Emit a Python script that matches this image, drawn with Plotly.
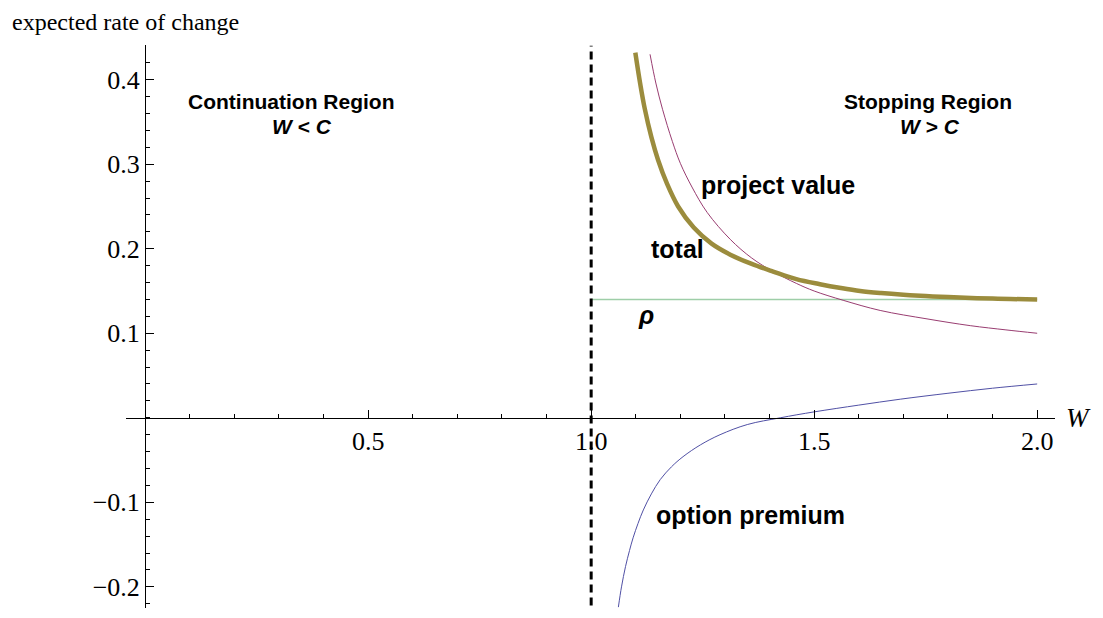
import plotly.graph_objects as go

# ---- data ----
C_threshold = 1.0
rho_value = 0.14
rho_w = [1.0, 2.0]

pv_w = [1.132, 1.145, 1.16, 1.182, 1.20, 1.226, 1.26, 1.312, 1.36, 1.408, 1.46, 1.5,
        1.565, 1.648, 1.753, 1.85, 1.93, 2.0]
pv_y = [0.430, 0.396, 0.365, 0.327, 0.301, 0.273, 0.243, 0.211, 0.189, 0.173, 0.159, 0.150,
        0.139, 0.127, 0.117, 0.109, 0.104, 0.100]

op_w = [1.061, 1.068, 1.077, 1.086, 1.094, 1.105, 1.117, 1.135, 1.155, 1.18, 1.206, 1.245,
        1.289, 1.35, 1.424, 1.5, 1.6, 1.693, 1.8, 1.9, 2.0]
op_y = [-0.224, -0.200, -0.176, -0.157, -0.142, -0.125, -0.109, -0.090, -0.073, -0.058, -0.046, -0.032,
        -0.020, -0.008, 0.0, 0.007, 0.015, 0.022, 0.029, 0.035, 0.040]

tot_w = [1.099, 1.11, 1.12, 1.135, 1.15, 1.17, 1.195, 1.23, 1.27, 1.312, 1.36, 1.408, 1.46,
         1.513, 1.56, 1.603, 1.65, 1.70, 1.75, 1.80, 1.90, 2.0]
tot_y = [0.432, 0.395, 0.366, 0.332, 0.305, 0.277, 0.250, 0.225, 0.206, 0.193, 0.182, 0.173, 0.164,
         0.158, 0.1535, 0.150, 0.1475, 0.1455, 0.144, 0.1428, 0.141, 0.140]

x_tickvals = [0.5, 1.0, 1.5, 2.0]
x_ticktext = ["0.5", "1.0", "1.5", "2.0"]
y_tickvals = [-0.2, -0.1, 0.1, 0.2, 0.3, 0.4]
y_ticktext = ["\u22120.2", "\u22120.1", "0.1", "0.2", "0.3", "0.4"]

X_RANGE = [-0.043, 2.04]
Y_RANGE = [-0.225, 0.441]

fig = go.Figure()

fig.add_trace(go.Scatter(x=rho_w, y=[rho_value, rho_value], mode="lines",
                         line=dict(color="rgb(158,206,168)", width=1.6), showlegend=False))
fig.add_trace(go.Scatter(x=pv_w, y=pv_y, mode="lines", line_shape="spline",
                         line=dict(color="rgb(153,61,113)", width=1, smoothing=1.0), showlegend=False))
fig.add_trace(go.Scatter(x=op_w, y=op_y, mode="lines", line_shape="spline",
                         line=dict(color="rgb(80,80,165)", width=1, smoothing=1.0), showlegend=False))
fig.add_trace(go.Scatter(x=tot_w, y=tot_y, mode="lines", line_shape="spline",
                         line=dict(color="rgb(155,140,61)", width=4.5, smoothing=1.0), showlegend=False))

fig.add_shape(type="line", xref="x", yref="y", x0=C_threshold, x1=C_threshold,
              y0=-0.222, y1=0.44, line=dict(color="black", width=3, dash="8px,5px"))

xpos = (0 - X_RANGE[0]) / (X_RANGE[1] - X_RANGE[0])
ypos = (0 - Y_RANGE[0]) / (Y_RANGE[1] - Y_RANGE[0])

tickfont = dict(family="Liberation Serif", size=26, color="black")

# page body adds an 8px offset; plot area spans window pixels x 126..1055, y 45..608
ML, MT = 118, 37
PW, PH = 929, 563

fig.update_layout(
    width=1103, height=618,
    margin=dict(l=ML, r=1103 - ML - PW, t=MT, b=618 - MT - PH),
    plot_bgcolor="white", paper_bgcolor="white",
    xaxis=dict(range=X_RANGE, anchor="free", position=ypos, showgrid=False, zeroline=False,
               showline=True, linecolor="black", linewidth=1.3,
               ticks="inside", ticklen=8, tickwidth=1, tickcolor="black",
               tickvals=x_tickvals, ticktext=x_ticktext, tickfont=tickfont,
               minor=dict(ticks="inside", dtick=0.1, tick0=0, ticklen=4, tickcolor="black", showgrid=False),
               automargin=False),
    yaxis=dict(range=Y_RANGE, anchor="free", position=xpos, showgrid=False, zeroline=False,
               showline=True, linecolor="black", linewidth=1.3,
               ticks="inside", ticklen=8, tickwidth=1, tickcolor="black",
               tickvals=y_tickvals, ticktext=y_ticktext, tickfont=tickfont,
               minor=dict(ticks="inside", dtick=0.02, tick0=0, ticklen=4, tickcolor="black", showgrid=False),
               automargin=False),
)

def wx(px):  # window pixel -> paper x
    return (px - 126) / PW

def wy(py):  # window pixel -> paper y
    return (608 - py) / PH

region_font = dict(family="Liberation Sans", size=21, color="black")
curve_font = dict(family="Liberation Sans", size=25, color="black")
annots = [
    ("<b>Continuation Region</b>", 291, 102, "center", region_font),
    ("<b><i>W</i> &lt; <i>C</i></b>", 302, 126, "center", region_font),
    ("<b>Stopping Region</b>", 928, 102, "center", region_font),
    ("<b><i>W</i> &gt; <i>C</i></b>", 930, 126, "center", region_font),
    ("<b>project value</b>", 699, 185, "left", curve_font),
    ("<b>total</b>", 649, 249, "left", curve_font),
    ("<b><i>\u03c1</i></b>", 636, 315, "left", curve_font),
    ("<b>option premium</b>", 654, 515, "left", curve_font),
]
for txt, px, py, anc, fnt in annots:
    fig.add_annotation(x=wx(px), y=wy(py), xref="paper", yref="paper", text=txt,
                       showarrow=False, xanchor=anc, yanchor="middle", font=fnt)

fig.add_annotation(x=wx(10), y=wy(22), xref="paper", yref="paper",
                   text="expected rate of change", showarrow=False, xanchor="left", yanchor="middle",
                   font=dict(family="Liberation Serif", size=24, color="black"))
fig.add_annotation(x=wx(1064), y=wy(418), xref="paper", yref="paper", text="<i>W</i>",
                   showarrow=False, xanchor="left", yanchor="middle",
                   font=dict(family="Liberation Serif", size=27, color="black"))

fig.write_html("out.html")
